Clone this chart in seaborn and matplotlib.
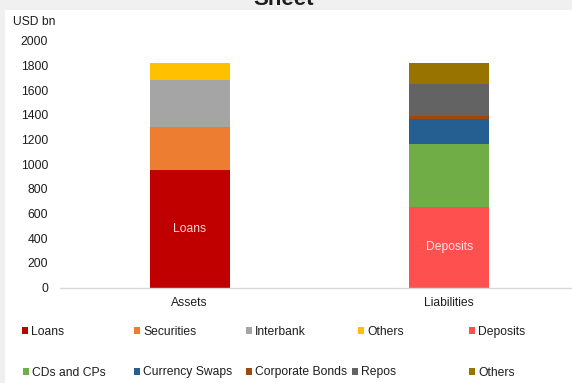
import matplotlib
matplotlib.use("Agg")
import matplotlib.pyplot as plt
from matplotlib.patches import Patch, Rectangle
import numpy as np
import pandas as pd
import seaborn as sns

# Balance sheet composition, USD bn
sides = ["Assets", "Liabilities"]

asset_items = ["Loans", "Securities", "Interbank", "Others"]
asset_values = [950, 350, 380, 137]
asset_colors = ["#C00000", "#ED7D31", "#A5A5A5", "#FFC000"]

liab_items = ["Deposits", "CDs and CPs", "Currency Swaps", "Corporate Bonds", "Repos", "Others"]
liab_values = [650, 510, 205, 27, 260, 165]
liab_colors = ["#FF5050", "#70AD47", "#255E91", "#9E480E", "#636363", "#997300"]

yticks = [0, 200, 400, 600, 800, 1000, 1200, 1400, 1600, 1800, 2000]

sns.set_theme(style="white")
plt.rcParams["font.family"] = ["Liberation Sans", "DejaVu Sans"]
TXT = "#1e1e1e"
FS = 8.7

W, H = 572, 383
fig = plt.figure(figsize=(W / 100, H / 100), dpi=100, facecolor="#f0f0f0")
fig.patches.append(Rectangle((5 / W, 0), 1, 1 - 10 / H, transform=fig.transFigure,
                             facecolor="white", edgecolor="none", zorder=-1))

ax_left, ax_right = 60 / W, 1.0
ax_bottom, ax_top = 1 - 287.5 / H, 1 - 40.8 / H
ax = fig.add_axes([ax_left, ax_bottom, ax_right - ax_left, ax_top - ax_bottom])
ax.set_facecolor("none")

# Build long table with cumulative tops for stacking
rows = []
for side, items, vals, cols in [("Assets", asset_items, asset_values, asset_colors),
                                 ("Liabilities", liab_items, liab_values, liab_colors)]:
    tops = np.cumsum(vals)
    for name, v, top, c in zip(items, vals, tops, cols):
        rows.append({"side": side, "item": name, "value": v,
                     "top": top, "bottom": top - v, "color": c})
df = pd.DataFrame(rows)

# Draw from the tallest cumulative segment down so lower segments cover upper ones
for _, r in df.sort_values("top", ascending=False).iterrows():
    sns.barplot(x=[r["side"]], y=[r["top"]], order=sides, color=r["color"],
                width=0.31, saturation=1, linewidth=0, ax=ax)

# Labels inside the base segments
for side, name in [("Assets", "Loans"), ("Liabilities", "Deposits")]:
    r = df[(df.side == side) & (df.item == name)].iloc[0]
    ax.text(sides.index(side), (r["bottom"] + r["top"]) / 2, name, ha="center",
            va="center", color="white", alpha=0.85, fontsize=FS)

ax.set_xlim(-0.5, 1.473)
ax.set_ylim(0, 2000)
ax.set_yticks(yticks)
ax.set_yticklabels([str(t) for t in yticks])
ax.set_xlabel("")
ax.set_ylabel("")
for s in ["left", "right", "top"]:
    ax.spines[s].set_visible(False)
ax.spines["bottom"].set_color("#d9d9d9")
ax.spines["bottom"].set_linewidth(1.0)
ax.tick_params(axis="y", length=0, pad=8.5, labelsize=FS, labelcolor=TXT)
ax.tick_params(axis="x", length=0, pad=6.5, labelsize=FS, labelcolor=TXT)

fig.text(13 / W, 1 - 22 / H, "USD bn", ha="left", va="center", fontsize=FS, color=TXT)
fig.text(283.5 / W, 1 - 5 / H, "Sheet", ha="center", va="baseline",
         fontsize=16, fontweight="bold", color=TXT)

# Legend entries laid out in two rows
legend_items = asset_items + liab_items
legend_colors = asset_colors + liab_colors
legend_x = [22, 134, 245.7, 358.3, 468.7, 22.6, 134, 246, 351.7, 469.3]
legend_y = [332] * 5 + [372.5] * 5
for name, c, lx, ly in zip(legend_items, legend_colors, legend_x, legend_y):
    leg = fig.legend(handles=[Patch(facecolor=c, edgecolor="none")], labels=[name],
                     loc="center left", bbox_to_anchor=(lx / W, 1 - ly / H),
                     frameon=False, borderpad=0, borderaxespad=0,
                     handlelength=0.5, handleheight=0.5, handletextpad=0.25,
                     fontsize=FS)
    for t in leg.get_texts():
        t.set_color(TXT)

fig.savefig("out.png", dpi=100, facecolor=fig.get_facecolor())
